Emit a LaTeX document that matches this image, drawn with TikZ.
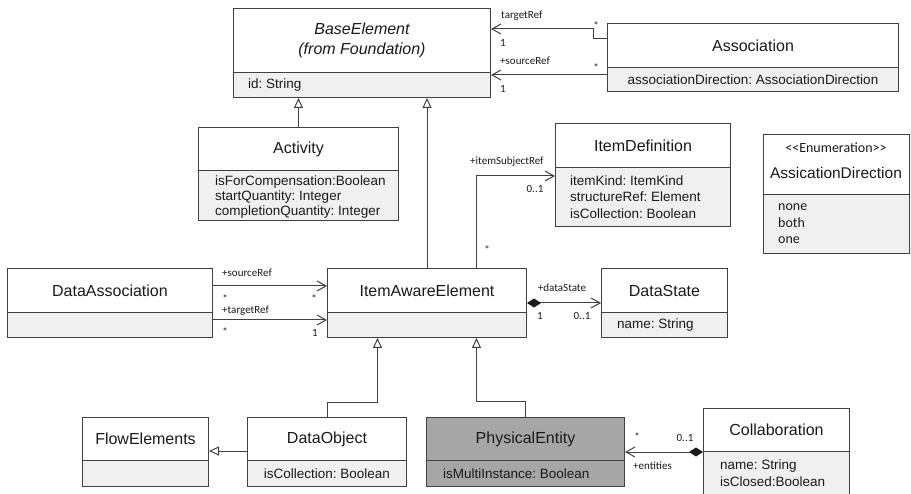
\documentclass[tikz,border=0pt]{standalone}
\usepackage{fontspec}
\setmainfont{Liberation Sans}
\newfontfamily\lblfont{Carlito}
\usetikzlibrary{arrows.meta,calc}
\definecolor{linec}{HTML}{404040}
\definecolor{compfill}{HTML}{F0F0F0}
\definecolor{pefill}{HTML}{A6A6A6}
\definecolor{txt}{HTML}{1A1A1A}
\frenchspacing
\begin{document}
\begin{tikzpicture}[x=1pt,y=-1pt,
  hdr/.style={draw=linec, line width=1pt, fill=white, inner sep=0pt, anchor=north west, align=center, text=txt, font=\fontsize{16}{20}\selectfont},
  cmp/.style={draw=linec, line width=1pt, fill=compfill, inner sep=0pt, anchor=north west, text=txt, font=\fontsize{13.5}{15}\selectfont},
  attr/.style={inner sep=0pt, anchor=west, align=left, text=txt, font=\fontsize{13.5}{15}\selectfont},
  lbl/.style={font=\lblfont\fontsize{11}{12}\selectfont, text=txt, inner sep=0pt},
  conn/.style={draw=linec, line width=1pt},
  gen/.style={conn, -{Triangle[open,length=10pt,width=9pt]}},
  nav/.style={conn, -{Straight Barb[length=9pt,width=10pt]}},
  compo/.style={conn, {Diamond[length=14pt,width=9pt,color=txt]}-{Straight Barb[length=9pt,width=10pt]}}
]
\useasboundingbox (0,0) rectangle (911,494);

% BaseElement
\node[hdr, minimum width=257pt, minimum height=64pt] (be) at (233,8) {\itshape BaseElement\\\itshape (from Foundation)};
\node[cmp, minimum width=257pt, minimum height=25pt] (be-a) at (233,72) {};
\node[attr] (be-t) at ([xshift=15pt]be-a.west) {id: String};

% Association
\node[hdr, minimum width=291pt, minimum height=44pt] (assoc) at (607,23) {Association};
\node[cmp, minimum width=291pt, minimum height=24pt] (assoc-a) at (607,67) {associationDirection: AssociationDirection};

% Activity
\node[hdr, minimum width=200pt, minimum height=43pt] (act) at (198,127) {Activity};
\node[cmp, minimum width=200pt, minimum height=50pt] (act-a) at (198,170) {};
\node[attr] (act-t) at ([xshift=17pt,yshift=-2pt]act-a.west) {isForCompensation:Boolean\\startQuantity: Integer\\completionQuantity: Integer};

% ItemDefinition
\node[hdr, minimum width=175pt, minimum height=44pt] (idef) at (555,123) {ItemDefinition};
\node[cmp, minimum width=175pt, minimum height=59pt] (idef-a) at (555,167) {};
\node[attr, font=\fontsize{13.5}{16.5}\selectfont] (idef-t) at ([xshift=15pt]idef-a.west) {itemKind: ItemKind\\structureRef: Element\\isCollection: Boolean};

% Enumeration
\node[hdr, minimum width=146pt, minimum height=60pt] (enum) at (763,134) {};
\node[lbl, font=\lblfont\fontsize{14}{15}\selectfont] (enum-st) at (836,148) {<{}<Enumeration>{}>};
\node[text=txt, inner sep=0pt, font=\fontsize{15.5}{18}\selectfont] (enum-nm) at (836,173) {AssicationDirection};
\node[cmp, minimum width=146pt, minimum height=59pt] (enum-a) at (763,194) {};
\node[attr, font=\lblfont\fontsize{14}{16.5}\selectfont] (enum-t) at ([xshift=15pt]enum-a.west) {none\\both\\one};

% DataAssociation
\node[hdr, minimum width=205pt, minimum height=44pt] (da) at (7,268) {DataAssociation};
\node[cmp, minimum width=205pt, minimum height=25pt] (da-a) at (7,312) {};

% ItemAwareElement
\node[hdr, minimum width=199pt, minimum height=44pt] (iae) at (327,268) {ItemAwareElement};
\node[cmp, minimum width=199pt, minimum height=25pt] (iae-a) at (327,312) {};

% DataState
\node[hdr, minimum width=126pt, minimum height=44pt] (ds) at (601,268) {DataState};
\node[cmp, minimum width=126pt, minimum height=25pt] (ds-a) at (601,312) {};
\node[attr] (ds-t) at ([xshift=16pt]ds-a.west) {name: String};

% FlowElements
\node[hdr, minimum width=126pt, minimum height=43pt] (fe) at (82,417) {FlowElements};
\node[cmp, minimum width=126pt, minimum height=26pt] (fe-a) at (82,460) {};

% DataObject
\node[hdr, minimum width=159pt, minimum height=43pt] (dobj) at (247,417) {DataObject};
\node[cmp, minimum width=159pt, minimum height=26pt] (dobj-a) at (247,460) {isCollection: Boolean};

% PhysicalEntity
\node[hdr, fill=pefill, minimum width=198pt, minimum height=43pt] (pe) at (426,417) {PhysicalEntity};
\node[cmp, fill=pefill, minimum width=198pt, minimum height=26pt] (pe-a) at (426,460) {};
\node[attr] (pe-t) at ([xshift=17pt]pe-a.west) {isMultiInstance: Boolean};

% Collaboration
\node[hdr, minimum width=146pt, minimum height=43pt] (collab) at (703,408) {Collaboration};
\node[cmp, minimum width=146pt, minimum height=43pt] (collab-a) at (703,451) {};
\node[attr, font=\fontsize{13.5}{17}\selectfont] (collab-t) at ([xshift=17pt]collab-a.west) {name: String\\isClosed:Boolean};

% Generalizations
\draw[gen] (act.north) -- (act.north |- be-a.south);
\draw[gen] (iae.north) -- (iae.north |- be-a.south);
\draw[gen] (dobj.north) -- ++(0,-14) -| ([xshift=-49.5pt]iae-a.south);
\draw[gen] (pe.north) -- ++(0,-15) -| ([xshift=49.5pt]iae-a.south);
\draw[gen] ([yshift=-34pt]dobj.north west) -- ([yshift=-34pt]dobj.north west -| fe.east);

% Associations to BaseElement
\draw[nav] ([yshift=-16pt]assoc.north west) -- ++(-14,0) |- ([yshift=-21pt]be.north east);
\draw[nav] ([yshift=-8pt]assoc-a.north west) -- ([yshift=-8pt]assoc-a.north west -| be.east);
\node[lbl, anchor=west] (l-tr) at (501,16) {targetRef};
\node[lbl] (l-tr1) at (503,43) {1};
\node[lbl] (l-trs) at (596,26) {*};
\node[lbl, anchor=west] (l-sr) at (500,61) {+sourceRef};
\node[lbl] (l-srs) at (596,68) {*};
\node[lbl] (l-sr1) at (503,89) {1};

% itemSubjectRef
\draw[nav] ([xshift=49.5pt]iae.north) |- ([yshift=-8pt]idef.south west);
\node[lbl, anchor=west] (l-isr) at (470,162) {+itemSubjectRef};
\node[lbl] (l-isr01) at (535,189) {0..1};
\node[lbl] (l-isrs) at (487,250) {*};

% DataAssociation
\draw[nav] ([yshift=-18pt]da.north east) -- ([yshift=-18pt]da.north east -| iae.west);
\draw[nav] ([yshift=-8pt]da-a.north east) -- ([yshift=-8pt]da-a.north east -| iae.west);
\node[lbl, anchor=west] (l-dsr) at (222,273) {+sourceRef};
\node[lbl] (l-dsr1) at (225,299) {*};
\node[lbl] (l-dsr2) at (314,299) {*};
\node[lbl, anchor=west] (l-dtr) at (222,311) {+targetRef};
\node[lbl] (l-dtr1) at (225,332) {*};
\node[lbl] (l-dtr2) at (315,333) {1};

% dataState
\draw[compo] ([yshift=-35pt]iae.north east) -- ([yshift=-35pt]iae.north east -| ds.west);
\node[lbl] (l-dst) at (562,288) {+dataState};
\node[lbl] (l-dst1) at (540,316) {1};
\node[lbl] (l-dst2) at (582,316) {0..1};

% entities
\draw[compo] (collab.south west) -- (collab.south west -| pe.east);
\node[lbl] (l-ens) at (637,437) {*};
\node[lbl] (l-en01) at (685,438) {0..1};
\node[lbl, anchor=west] (l-en) at (633,466) {+entities};
\end{tikzpicture}
\end{document}
